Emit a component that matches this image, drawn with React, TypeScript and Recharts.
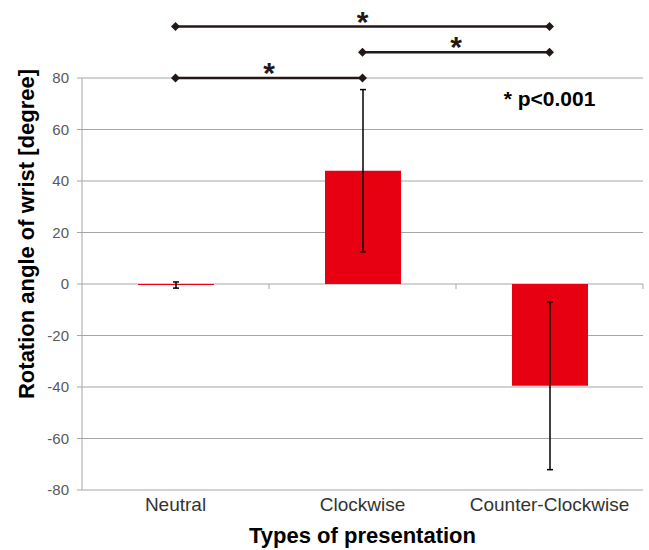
import { BarChart, Bar, XAxis, YAxis, CartesianGrid, ErrorBar, ReferenceLine, ReferenceDot } from 'recharts';

// values
const categories = ['Neutral', 'Clockwise', 'Counter-Clockwise'];
const means = [-0.4, 44, -39.5];
const sdErrors = [1.2, 31.5, 32.6];
const yTicks = [-80, -60, -40, -20, 0, 20, 40, 60, 80];

// significance brackets: [from, to, level]
const sigFrom = ['Neutral', 'Clockwise', 'Neutral'];
const sigTo = ['Clockwise', 'Counter-Clockwise', 'Counter-Clockwise'];
const sigLevel = [80, 90, 100];
const noteText = '* p<0.001';
const noteLevel = 72;

const data = categories.map((name, i) => ({ name, mean: means[i], err: sdErrors[i] }));

const W = 649;
const H = 550;
const MARGIN = { top: 78, right: 6, bottom: 0, left: 0 };
const Y_WIDTH = 82;
const BAND = (W - MARGIN.left - MARGIN.right - Y_WIDTH) / categories.length;

const INK = '#231815';
const RED = '#e60012';
const GRID = '#a6a6a6';
const FONT = '"Liberation Sans", Arial, sans-serif';

function Diamond(props: any) {
    const { cx, cy } = props;
    const s = 4.5;
    return <polygon points={`${cx},${cy - s} ${cx + s},${cy} ${cx},${cy + s} ${cx - s},${cy}`} fill={INK} />;
}

function BoundaryTick(props: any) {
    const { cx, cy } = props;
    const x = cx + BAND / 2;
    return <line x1={x} y1={cy} x2={x} y2={cy + 5} stroke={GRID} strokeWidth={1} />;
}

function YTitle(props: any) {
    const vb = props.viewBox;
    const x = 26;
    const y = vb.y + vb.height / 2 - 50;
    return (
        <text
            x={x}
            y={y}
            transform={`rotate(-90 ${x} ${y})`}
            textAnchor="middle"
            dominantBaseline="central"
            fontFamily={FONT}
            fontWeight="bold"
            fontSize={22}
            fill="#000"
        >
            Rotation angle of wrist [degree]
        </text>
    );
}

export default function App() {
    return (
        <div style={{ position: 'absolute', left: 0, top: 0, background: '#fff' }}>
            <BarChart width={W} height={H} data={data} margin={MARGIN} barSize={76}>
                <CartesianGrid vertical={false} stroke={GRID} />
                <XAxis
                    dataKey="name"
                    axisLine={false}
                    tickLine={false}
                    interval={0}
                    height={60}
                    tick={{ fontSize: 19, fill: '#333', fontFamily: FONT }}
                    label={{
                        value: 'Types of presentation',
                        position: 'insideBottom',
                        offset: 7,
                        fontSize: 22,
                        fontWeight: 'bold',
                        fill: '#000',
                        fontFamily: FONT,
                    }}
                />
                <YAxis
                    width={Y_WIDTH}
                    domain={[-80, 80]}
                    ticks={yTicks}
                    axisLine={{ stroke: GRID }}
                    tickLine={{ stroke: GRID }}
                    tickSize={5}
                    tickMargin={8}
                    tick={{ fontSize: 15, fill: '#595959', fontFamily: FONT }}
                    label={{ content: (p: any) => <YTitle {...p} /> }}
                />
                <Bar dataKey="mean" fill={RED} isAnimationActive={false}>
                    <ErrorBar dataKey="err" width={3} stroke="#000" strokeWidth={1.5} isAnimationActive={false} />
                </Bar>
                {categories.map((c) => (
                    <ReferenceDot key={`b-${c}`} x={c} y={0} r={0} ifOverflow="visible" shape={BoundaryTick} />
                ))}
                {sigLevel.map((lv, i) => (
                    <ReferenceLine
                        key={`s-${i}`}
                        segment={[
                            { x: sigFrom[i], y: lv },
                            { x: sigTo[i], y: lv },
                        ]}
                        stroke={INK}
                        strokeWidth={2.5}
                        ifOverflow="visible"
                        label={{ value: '*', position: 'top', offset: -5, fontSize: 30, fontWeight: 'bold', fill: INK, fontFamily: FONT }}
                    />
                ))}
                {sigLevel.map((lv, i) => (
                    <ReferenceDot key={`d1-${i}`} x={sigFrom[i]} y={lv} r={4} ifOverflow="visible" shape={Diamond} />
                ))}
                {sigLevel.map((lv, i) => (
                    <ReferenceDot key={`d2-${i}`} x={sigTo[i]} y={lv} r={4} ifOverflow="visible" shape={Diamond} />
                ))}
                <ReferenceDot
                    x="Counter-Clockwise"
                    y={noteLevel}
                    r={0}
                    ifOverflow="visible"
                    fill="none"
                    stroke="none"
                    label={{ value: noteText, position: 'center', fontSize: 21, fontWeight: 'bold', fill: '#000', fontFamily: FONT }}
                />
            </BarChart>
        </div>
    );
}
